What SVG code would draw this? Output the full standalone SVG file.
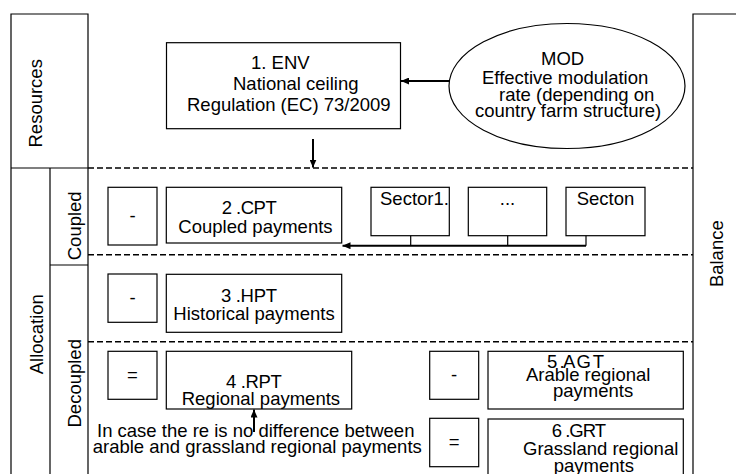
<svg xmlns="http://www.w3.org/2000/svg" width="736" height="474" viewBox="0 0 736 474">
<style>
text{font-family:"Liberation Sans",Arial,sans-serif;font-size:18.5px;fill:#000}
.box{fill:#fff;stroke:#000;stroke-width:1.2}
.frame{fill:none;stroke:#000;stroke-width:1.2}
.dash{fill:none;stroke:#000;stroke-width:1.6;stroke-dasharray:6 3}
.conn{fill:none;stroke:#000;stroke-width:2}
.thin{fill:none;stroke:#000;stroke-width:1.2}
.mid{text-anchor:middle}
</style>
<defs>
<marker id="ah" viewBox="0 0 8 7" refX="8" refY="3.5" markerWidth="8" markerHeight="7" markerUnits="userSpaceOnUse" orient="auto">
<path d="M0,0 L8,3.5 L0,7 z" fill="#000"/>
</marker>
</defs>
<rect width="736" height="474" fill="#fff"/>

<g id="frame">
<path class="frame" d="M11,474 V14 H88 V474 M11,168 H88 M50,474 V168 M50,265 H88 M693,474 V14 H736"/>
<path class="dash" d="M88,168 H693 M88,254.7 H693 M88,341.7 H693"/>
</g>

<g id="lbl-resources"><text class="mid" transform="translate(42,103.3) rotate(-90)">Resources</text></g>
<g id="lbl-allocation"><text class="mid" transform="translate(42.5,334.2) rotate(-90)">Allocation</text></g>
<g id="lbl-coupled"><text class="mid" transform="translate(80.5,225.8) rotate(-90)">Coupled</text></g>
<g id="lbl-decoupled"><text class="mid" transform="translate(80.5,383.3) rotate(-90)">Decoupled</text></g>
<g id="lbl-balance"><text class="mid" transform="translate(722.5,253.7) rotate(-90)">Balance</text></g>

<g id="env">
<rect class="box" x="166.5" y="42.7" width="234" height="86"/>
<text x="251" y="69">1. ENV</text>
<text x="233" y="90">National ceiling</text>
<text x="187" y="111">Regulation (EC) 73/2009</text>
</g>

<g id="mod">
<ellipse class="box" cx="567" cy="86" rx="118" ry="62.5"/>
<text x="541" y="65">MOD</text>
<text x="482" y="84.3">Effective modulation</text>
<text x="499" y="100.7">rate (depending on</text>
<text x="475" y="116.7">country farm structure)</text>
</g>

<g id="minus-cpt">
<rect class="box" x="108" y="187.3" width="49" height="57.7"/>
<text class="mid" x="132.5" y="222">-</text>
</g>
<g id="cpt">
<rect class="box" x="166.3" y="187.3" width="175.4" height="55.7"/>
<text x="221.7" y="214.3" textLength="55" lengthAdjust="spacing">2 .CPT</text>
<text x="178.3" y="233.3">Coupled payments</text>
</g>

<g id="sector1">
<rect class="box" x="371" y="187.3" width="78.3" height="48.4"/>
<text x="380" y="204.5">Sector1.</text>
</g>
<g id="sector-dots">
<rect class="box" x="468.3" y="187.3" width="78.4" height="48.4"/>
<text class="mid" x="507.5" y="204.5">...</text>
</g>
<g id="sectorn">
<rect class="box" x="566" y="187.3" width="79" height="48.4"/>
<text x="576.7" y="204.5">Secton</text>
</g>

<g id="minus-hpt">
<rect class="box" x="108" y="274" width="49" height="48.3"/>
<text class="mid" x="132.5" y="304">-</text>
</g>
<g id="hpt">
<rect class="box" x="166.3" y="274.3" width="175.4" height="58"/>
<text x="221" y="301.7" textLength="56" lengthAdjust="spacing">3 .HPT</text>
<text x="173.3" y="320">Historical payments</text>
</g>

<g id="eq-rpt">
<rect class="box" x="108" y="351.3" width="49" height="48"/>
<text class="mid" x="132.5" y="381">=</text>
</g>
<g id="rpt">
<rect class="box" x="166.3" y="351.3" width="185.4" height="57.7"/>
<text x="226" y="388" textLength="55.7" lengthAdjust="spacing">4 .RPT</text>
<text x="181.7" y="404.7">Regional payments</text>
</g>

<g id="note">
<text x="97" y="437">In case the re is no difference between</text>
<text x="92.7" y="453">arable and grassland regional payments</text>
</g>

<g id="minus-agt">
<rect class="box" x="429.7" y="351.3" width="49" height="48"/>
<text class="mid" x="454.2" y="381">-</text>
</g>
<g id="agt">
<rect class="box" x="488" y="351.3" width="195.3" height="57.7"/>
<text x="547" y="368.3" textLength="57" lengthAdjust="spacing">5 .A G T</text>
<text x="526" y="381">Arable regional</text>
<text x="553" y="397">payments</text>
</g>

<g id="eq-grt">
<rect class="box" x="429.7" y="418.3" width="49" height="48.4"/>
<text class="mid" x="454.2" y="448">=</text>
</g>
<g id="grt">
<rect class="box" x="488" y="419" width="195.3" height="60"/>
<text x="551.7" y="436.7" textLength="54.3" lengthAdjust="spacing">6 .GRT</text>
<text x="523" y="455">Grassland regional</text>
<text x="553.7" y="472">payments</text>
</g>

<g id="connectors">
<line class="conn" x1="313" y1="139" x2="313" y2="167.5" marker-end="url(#ah)"/>
<line class="conn" x1="449" y1="81" x2="401" y2="81" marker-end="url(#ah)"/>
<path class="thin" d="M410.7,235.7 V245.7 M507.7,235.7 V245.7 M586,235.7 V245.7"/>
<line class="conn" x1="586" y1="245.7" x2="342.5" y2="245.7" marker-end="url(#ah)"/>
<line class="conn" x1="254" y1="432" x2="254" y2="409.5" marker-end="url(#ah)"/>
</g>
</svg>
